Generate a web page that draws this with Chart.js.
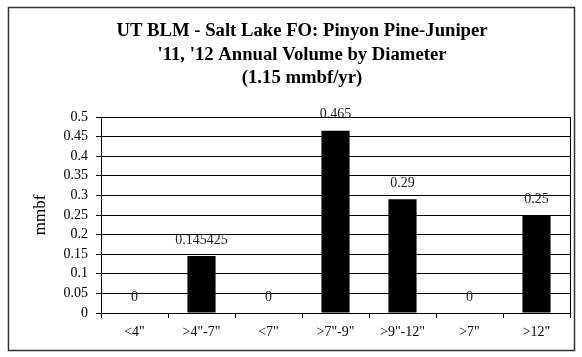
<!DOCTYPE html>
<html>
<head>
<meta charset="utf-8">
<script src="https://cdn.jsdelivr.net/npm/chart.js@4/dist/chart.umd.min.js"></script>
<style>
  html, body { margin: 0; padding: 0; background: #fff; }
  #wrap { width: 582px; height: 357px; position: relative; }
</style>
</head>
<body>
<div id="wrap"><canvas id="volChart"></canvas></div>
<script>
const categories = ['<4"', '>4"-7"', '<7"', '>7"-9"', '>9"-12"', '>7"', '>12"'];
const volumes = [0, 0.145425, 0, 0.465, 0.29, 0, 0.25];
const valueLabels = ['0', '0.145425', '0', '0.465', '0.29', '0', '0.25'];
const titleLines = ['UT BLM - Salt Lake FO: Pinyon Pine-Juniper', "'11, '12 Annual Volume by Diameter", '(1.15 mmbf/yr)'];
const yTitle = 'mmbf';

const serif = "'Liberation Serif', 'Times New Roman', serif";

// frame, title and value labels
const decor = {
	id: 'decor',
	beforeDraw(chart) {
		const c = chart.ctx;
		c.save();
		c.fillStyle = '#fff';
		c.fillRect(0, 0, chart.width, chart.height);
		c.strokeStyle = '#333';
		c.lineWidth = 1.5;
		c.strokeRect(8.5, 7.5, 566, 343);
		c.restore();
	},
	afterDraw(chart) {
		const c = chart.ctx;
		const a = chart.chartArea;
		c.save();
		c.strokeStyle = '#000';
		c.lineWidth = 1;
		c.strokeRect(Math.round(a.left) + 0.5, Math.round(a.top) + 0.5, Math.round(a.right - a.left), Math.round(a.bottom - a.top));

		c.fillStyle = '#000';
		c.textAlign = 'center';
		c.textBaseline = 'middle';
		c.font = 'bold 18.7px ' + serif;
		const ys = [31, 55, 78];
		titleLines.forEach((t, i) => c.fillText(t, 302, ys[i]));

		c.font = '14px ' + serif;
		c.fillStyle = '#222';
		chart.getDatasetMeta(0).data.forEach((bar, i) => {
			c.fillText(valueLabels[i], bar.x, bar.y - 16);
		});
		c.restore();
	}
};

const ctx = document.getElementById('volChart').getContext('2d');
const volChart = new Chart(ctx, {
	type: 'bar',
	data: {
		labels: categories,
		datasets: [{
			data: volumes,
			backgroundColor: '#000',
			borderWidth: 0,
			barPercentage: 0.42,
			categoryPercentage: 1,
		}],
	},
	options: {
		responsive: true,
		maintainAspectRatio: false,
		animation: false,
		layout: { padding: { top: 117, right: 12, bottom: 0, left: 0 } },
		plugins: {
			legend: { display: false },
			tooltip: { enabled: false },
		},
		scales: {
			x: {
				offset: true,
				grid: { offset: true, drawOnChartArea: false, color: '#000', tickLength: 5 },
				border: { color: '#000' },
				ticks: { color: '#000', font: { family: serif, size: 14 }, padding: 6, maxRotation: 0, autoSkip: false },
				afterFit: (s) => { s.height = 44; },
			},
			y: {
				min: 0,
				max: 0.5,
				ticks: {
					stepSize: 0.05,
					autoSkip: false,
					color: '#000',
					padding: 8,
					font: { family: serif, size: 14 },
					callback: (v) => String(Math.round(v * 100) / 100),
				},
				grid: { color: '#000', tickLength: 5 },
				border: { color: '#000' },
				title: { display: true, text: yTitle, color: '#000', font: { family: serif, size: 17 }, padding: { top: 30, bottom: 0 } },
				afterFit: (s) => { s.width = 101; },
			},
		},
	},
	plugins: [decor],
});
</script>
</body>
</html>
